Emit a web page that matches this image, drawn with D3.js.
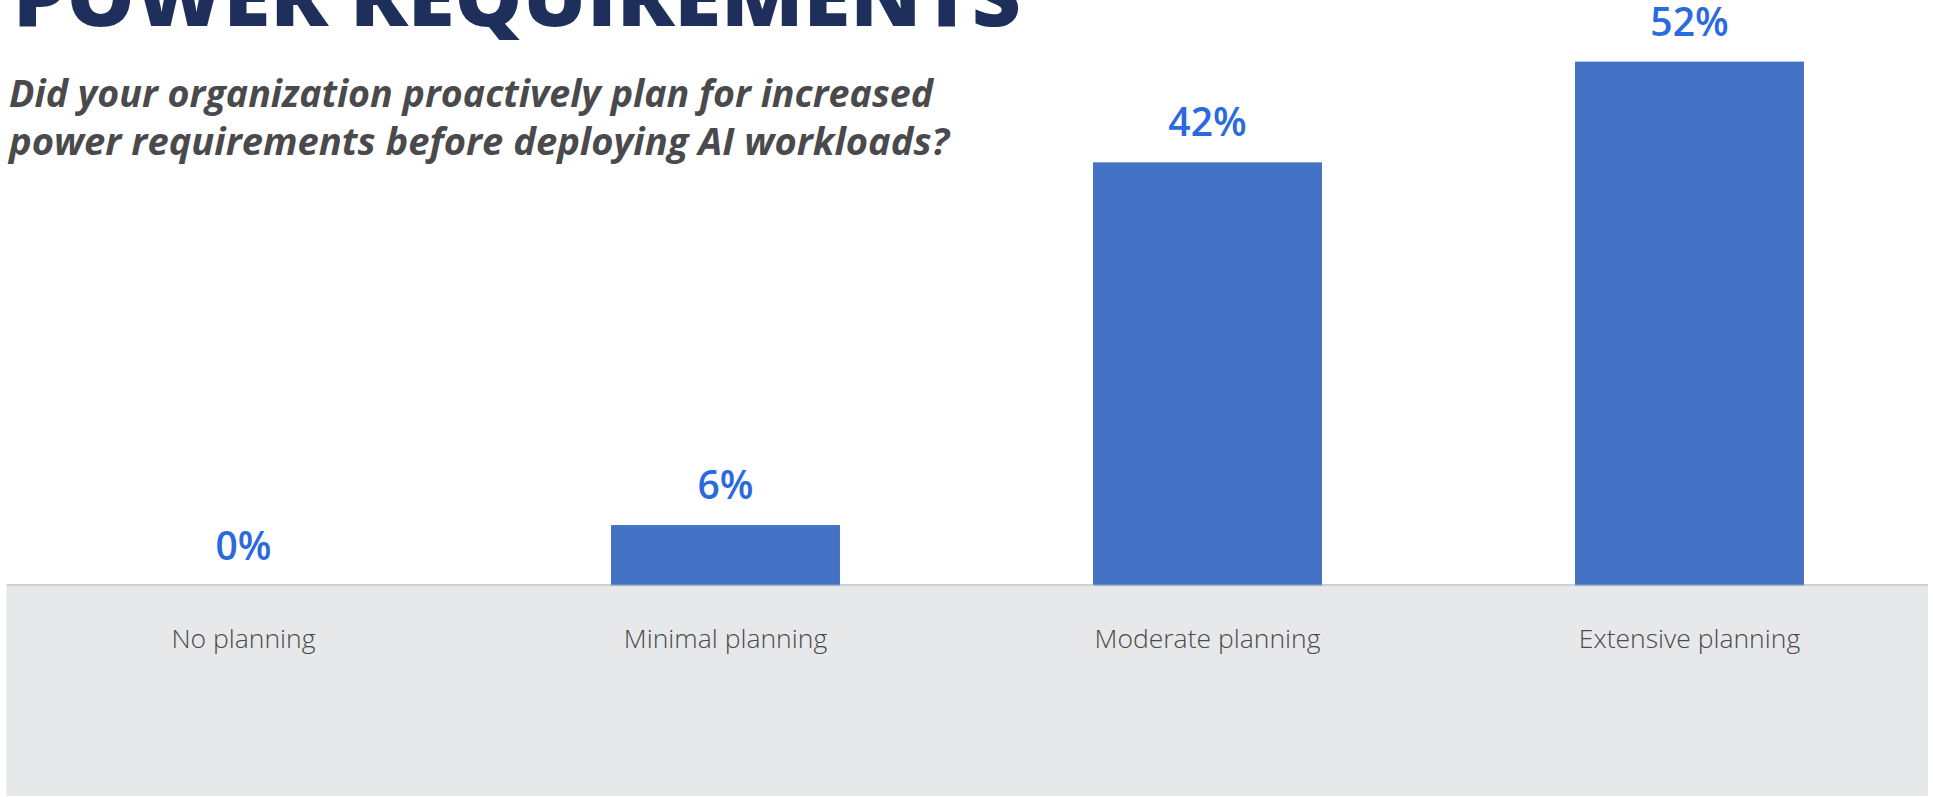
<!DOCTYPE html>
<html>
<head>
<meta charset="utf-8">
<script src="https://cdn.jsdelivr.net/npm/d3@7"></script>
<style>
  html, body { margin: 0; padding: 0; background: #ffffff; }
  svg { display: block; }
</style>
</head>
<body>
<svg id="chart" width="1933" height="797"></svg>
<script>
// Survey answers and their shares (percent of respondents)
const categories = ["No planning", "Minimal planning", "Moderate planning", "Extensive planning"];
const shares = [0, 6, 42, 52];
const valueLabels = ["0%", "6%", "42%", "52%"];

const titleText = "POWER REQUIREMENTS";
const questionLines = [
  "Did your organization proactively plan for increased",
  "power requirements before deploying AI workloads?"
];

const W = 1933, H = 797;
const svg = d3.select("#chart");

// Scales
const x = d3.scaleBand()
  .domain(categories)
  .range([2.5, 1930.5])
  .paddingInner(0.525)
  .paddingOuter(0.2625);

const y = d3.scaleLinear()
  .domain([0, d3.max(shares)])
  .range([585.5, 61.6]);

// Grey footer panel holding the category labels
svg.append("rect")
  .attr("x", 6.5)
  .attr("y", 586)
  .attr("width", 1921.5)
  .attr("height", 210)
  .attr("fill", "#e7e8ea");

// Heading
svg.append("text")
  .attr("x", 13)
  .attr("y", 26)
  .attr("textLength", 1008)
  .attr("lengthAdjust", "spacingAndGlyphs")
  .style("font-family", "'Open Sans', sans-serif")
  .style("font-weight", 800)
  .style("font-size", "82px")
  .attr("fill", "#1e2f5b")
  .text(titleText);

// Question (two lines)
const qLengths = [924, 940];
svg.selectAll("text.question")
  .data(questionLines)
  .join("text")
  .attr("class", "question")
  .attr("x", 9)
  .attr("y", (d, i) => 107 + i * 48)
  .attr("textLength", (d, i) => qLengths[i])
  .attr("lengthAdjust", "spacingAndGlyphs")
  .style("font-family", "'Open Sans', sans-serif")
  .style("font-weight", 700)
  .style("font-style", "italic")
  .style("font-size", "37px")
  .attr("fill", "#4a4a4c")
  .text(d => d);

// Bars
const data = categories.map((c, i) => ({ category: c, value: shares[i], label: valueLabels[i] }));

svg.append("g")
  .selectAll("rect")
  .data(data)
  .join("rect")
  .attr("x", d => x(d.category))
  .attr("width", x.bandwidth())
  .attr("y", d => y(d.value))
  .attr("height", d => y(0) - y(d.value))
  .attr("fill", "#4472c4");

// Value labels above the bars
svg.append("g")
  .selectAll("text")
  .data(data)
  .join("text")
  .attr("x", d => x(d.category) + x.bandwidth() / 2)
  .attr("y", d => y(d.value) - 26)
  .attr("text-anchor", "middle")
  .style("font-family", "'Open Sans', sans-serif")
  .style("font-weight", 600)
  .style("font-size", "39px")
  .attr("fill", "#2b6ade")
  .text(d => d.label);

// Category axis
const axis = svg.append("g")
  .attr("transform", `translate(0,${y(0)})`)
  .call(d3.axisBottom(x).tickSize(0).tickSizeOuter(0));

axis.select(".domain").remove();
axis.selectAll("text")
  .attr("y", 62.5)
  .attr("dy", 0)
  .style("font-family", "'Open Sans', sans-serif")
  .style("font-weight", 300)
  .style("font-size", "26.5px")
  .attr("fill", "#4a4a4c");

// Baseline rule
svg.append("line")
  .attr("x1", 6.5)
  .attr("x2", 1928)
  .attr("y1", 585)
  .attr("y2", 585)
  .attr("stroke", "rgba(150,165,178,0.5)")
  .attr("stroke-width", 2);
</script>
</body>
</html>
